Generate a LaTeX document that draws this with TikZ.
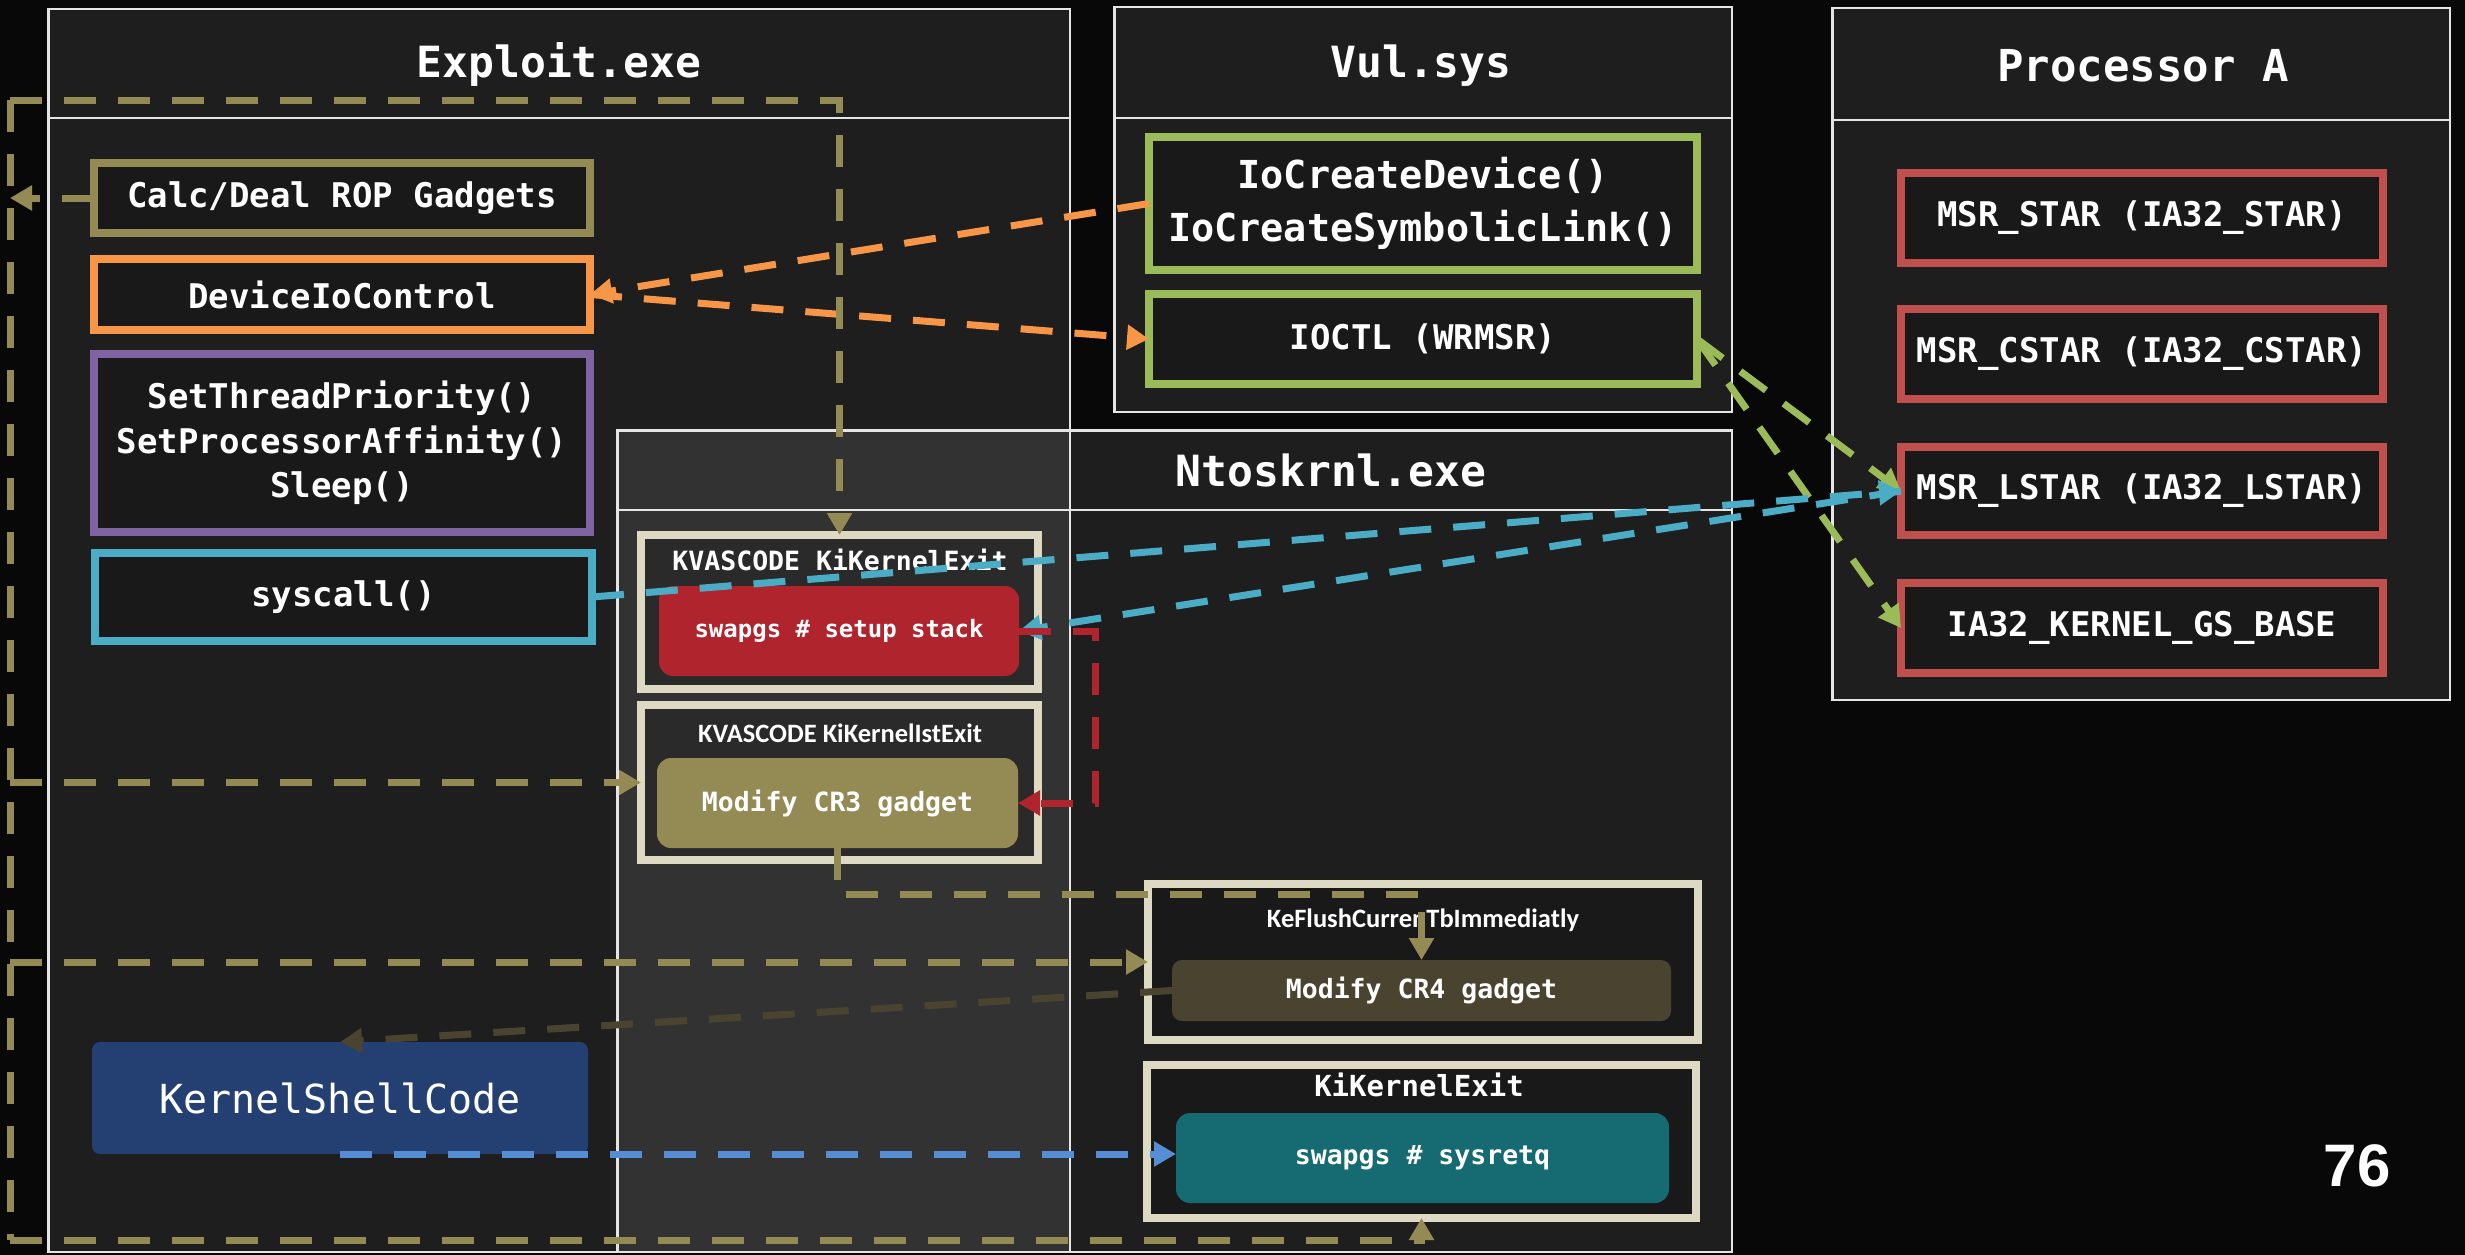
\documentclass[tikz,border=0pt]{standalone}
\usepackage{fontspec}
\setmainfont{DejaVu Sans}
\setmonofont{DejaVu Sans Mono}
\newfontfamily\calib{Carlito}
\newfontfamily\numfont{Liberation Sans}
\usetikzlibrary{arrows.meta}
\definecolor{bgc}{HTML}{080808}
\definecolor{cOlive}{HTML}{948A54}
\definecolor{cOrange}{HTML}{F79646}
\definecolor{cPurple}{HTML}{8064A2}
\definecolor{cCyan}{HTML}{4BACC6}
\definecolor{cGreen}{HTML}{9BBB59}
\definecolor{cRedB}{HTML}{C0504D}
\definecolor{cRedF}{HTML}{B0252D}
\definecolor{cCream}{HTML}{DDD9C3}
\definecolor{cCRf}{HTML}{4A4330}
\definecolor{cKSC}{HTML}{243F71}
\definecolor{cTeal}{HTML}{156B71}
\definecolor{cBlue}{HTML}{558ED5}
\begin{document}
\begin{tikzpicture}[x=1pt,y=-1pt,
  panel/.style={draw=white!90!black, line width=2.5pt, fill=white, fill opacity=0.09, inner sep=0pt, outer sep=0pt},
  hline/.style={draw=white!90!black, line width=2.5pt},
  ttl/.style={text=white, font=\ttfamily\bfseries\fontsize{43}{50}\selectfont},
  obox/.style={draw=#1, line width=8pt, fill=black, fill opacity=0.15, text opacity=1, inner sep=0pt, outer sep=0pt, text=white, align=center, font=\ttfamily\bfseries\fontsize{34}{44.5}\selectfont},
  fbox/.style={fill=#1, rounded corners=14pt, inner sep=0pt, outer sep=0pt, text=white, align=center, font=\ttfamily\bfseries\fontsize{26.5}{30}\selectfont},
  lblm/.style={text=white, font=\ttfamily\bfseries\fontsize{26.5}{30}\selectfont},
  lbls/.style={text=white, font=\calib\bfseries\fontsize{26.5}{30}\selectfont},
  conn/.style={line width=7pt, dash pattern=on 32pt off 22pt, -{Triangle[length=22pt,width=24pt]}}
]
\useasboundingbox (0,0) rectangle (2465,1255);
\fill[bgc] (0,0) rectangle (2465,1255);

% panels
\node[panel, minimum width=1021.5pt, minimum height=1242.5pt] (exploit) at (559,630.5) {};
\node[panel, minimum width=617.5pt, minimum height=404.5pt] (vul) at (1423,209.5) {};
\node[panel, minimum width=617.5pt, minimum height=691.5pt] (proc) at (2141,354) {};
\node[panel, minimum width=1114.5pt, minimum height=821.5pt] (ntos) at (1174.5,841) {};
\draw[hline] (exploit.west |- 0,118) -- (exploit.east |- 0,118);
\draw[hline] (vul.west |- 0,118) -- (vul.east |- 0,118);
\draw[hline] (proc.west |- 0,120) -- (proc.east |- 0,120);
\draw[hline] (ntos.west |- 0,510) -- (ntos.east |- 0,510);
\node[ttl] (t-exploit) at (559,64) {Exploit.exe};
\node[ttl] (t-vul) at (1421,66) {Vul.sys};
\node[ttl, font=\ttfamily\bfseries\fontsize{44}{50}\selectfont] (t-proc) at (2143,66) {Processor A};
\node[ttl] (t-ntos) at (1331,470) {Ntoskrnl.exe};

% Exploit.exe boxes
\node[obox=cOlive, minimum width=496pt, minimum height=70pt] (calc) at (342,198) {Calc/Deal ROP Gadgets};
\node[obox=cOrange, minimum width=496pt, minimum height=71pt] (dev) at (342,294.5) {DeviceIoControl};
\node[obox=cPurple, minimum width=496pt, minimum height=178pt] (thr) at (342,443) {SetThreadPriority()\\SetProcessorAffinity()\\Sleep()};
\node[obox=cCyan, minimum width=497pt, minimum height=88pt] (sys) at (343.5,597) {syscall()};
\node[fbox=cKSC, rounded corners=8pt, minimum width=496pt, minimum height=112pt, font=\ttfamily\fontsize{40}{46}\selectfont] (ksc) at (340,1098) {KernelShellCode};

% Vul.sys boxes
\node[obox=cGreen, minimum width=548pt, minimum height=133pt, font=\ttfamily\bfseries\fontsize{38.5}{53}\selectfont] (iocreate) at (1423,203.5) {IoCreateDevice()\\IoCreateSymbolicLink()};
\node[obox=cGreen, minimum width=548pt, minimum height=90pt] (ioctl) at (1423,339) {IOCTL (WRMSR)};

% Processor A boxes
\node[obox=cRedB, minimum width=482pt, minimum height=90pt] (star) at (2142,218) {MSR\_STAR (IA32\_STAR)};
\node[obox=cRedB, minimum width=482pt, minimum height=90pt] (cstar) at (2142,354) {MSR\_CSTAR (IA32\_CSTAR)};
\node[obox=cRedB, minimum width=482pt, minimum height=88pt] (lstar) at (2142,491) {MSR\_LSTAR (IA32\_LSTAR)};
\node[obox=cRedB, minimum width=482pt, minimum height=90pt] (gsbase) at (2142,628) {IA32\_KERNEL\_GS\_BASE};

% Ntoskrnl boxes
\node[obox=cCream, minimum width=397pt, minimum height=154pt] (kexit1) at (839.5,612) {};
\node[lblm] (l-kexit1) at (840,560) {KVASCODE KiKernelExit};
\node[fbox=cRedF, minimum width=360pt, minimum height=90pt, font=\ttfamily\bfseries\fontsize{24}{28}\selectfont] (setup) at (839,631) {swapgs \# setup stack};
\node[obox=cCream, minimum width=397pt, minimum height=155pt] (kist) at (839.5,782.5) {};
\node[lbls] (l-kist) at (840,733.5) {KVASCODE KiKernelIstExit};
\node[fbox=cOlive, minimum width=361pt, minimum height=90pt] (cr3) at (837.5,803) {Modify CR3 gadget};
\node[obox=cCream, minimum width=550pt, minimum height=156pt] (kflush) at (1423,962) {};
\node[lbls] (l-kflush) at (1423,920) {KeFlushCurrenTbImmediatly};
\node[fbox=cCRf, rounded corners=10pt, minimum width=499pt, minimum height=61pt] (cr4) at (1421.5,990.5) {Modify CR4 gadget};
\node[obox=cCream, minimum width=549pt, minimum height=153pt] (kexit2) at (1421.5,1141.5) {};
\node[lblm, font=\ttfamily\bfseries\fontsize{29}{32}\selectfont] (l-kexit2) at (1419,1085) {KiKernelExit};
\node[fbox=cTeal, minimum width=493pt, minimum height=90pt] (sysret) at (1422.5,1158) {swapgs \# sysretq};

\node[text=white, font=\numfont\bfseries\fontsize{60}{60}\selectfont] (pg) at (2357,1166) {76};

% connectors
\coordinate (lt) at (10,100);
\coordinate (lb) at (10,1240);
\draw[conn, color=cOrange] (iocreate.west) -- (dev.east);
\draw[conn, color=cOrange] (dev.east) -- (ioctl.west);
\draw[conn, color=cGreen] (ioctl.east) -- (lstar.west);
\draw[conn, color=cGreen] (ioctl.east) -- (gsbase.west);
\draw[conn, color=cCyan] (sys.east) -- (lstar.west);
\draw[conn, color=cCyan] (lstar.west) -- (setup.east);
\draw[conn, color=cRedF] (setup.east) -- ++(76,0) |- (cr3.east);
\draw[conn, color=cOlive] (calc.west) -- (calc.west -| lt);
\draw[conn, color=cOlive, -] (lt) -- (lb);
\draw[conn, color=cOlive] (lt) -- (kexit1.north |- lt) -- (kexit1.north);
\draw[conn, color=cOlive] (lt |- kist.west) -- (kist.west);
\draw[conn, color=cOlive] (lt |- kflush.west) -- (kflush.west);
\draw[conn, color=cOlive] (lb) -- (kexit2.south |- lb) -- (kexit2.south);
\draw[conn, color=cOlive] (cr3.south) -- ++(0,46) -| (cr4.north);
\draw[conn, color=cCRf] (cr4.west) -- (ksc.north);
\draw[conn, color=cBlue] (ksc.south) -- (ksc.south -| sysret.west);
\end{tikzpicture}
\end{document}
